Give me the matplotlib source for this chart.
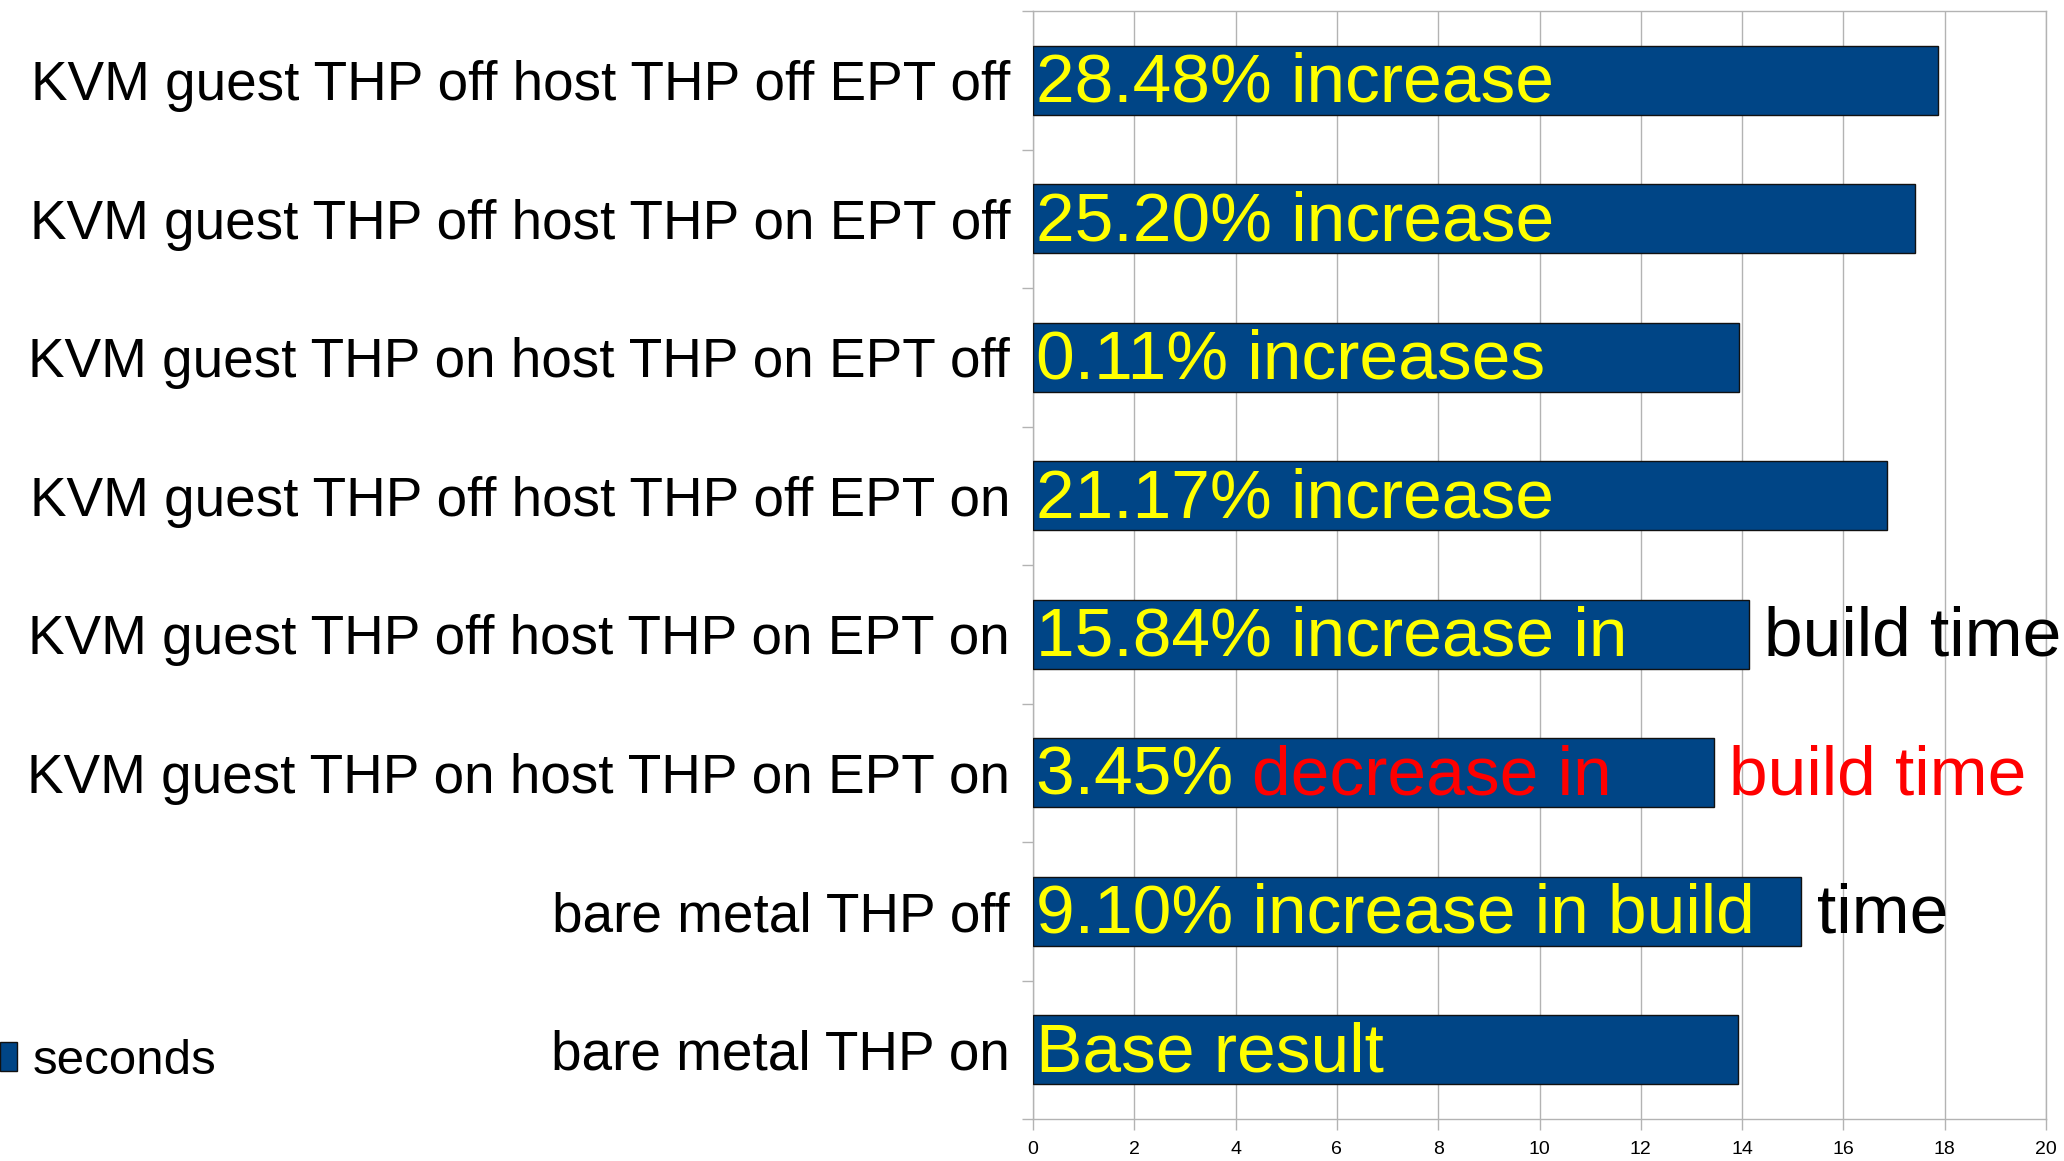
import matplotlib
matplotlib.use("Agg")
import matplotlib.pyplot as plt
from matplotlib.patches import Rectangle

plt.rcParams["font.family"] = ["Liberation Sans", "DejaVu Sans"]

# Build configurations, top to bottom
categories = [
    "KVM guest THP off host THP off EPT off",
    "KVM guest THP off host THP on EPT off",
    "KVM guest THP on host THP on EPT off",
    "KVM guest THP off host THP off EPT on",
    "KVM guest THP off host THP on EPT on",
    "KVM guest THP on host THP on EPT on",
    "bare metal THP off",
    "bare metal THP on",
]
# Build time in seconds
seconds = [17.87, 17.42, 13.93, 16.86, 14.14, 13.44, 15.17, 13.92]

# Text written inside each bar: list of (text, colour) pieces
inner_labels = [
    [("28.48% increase", "#ffff00")],
    [("25.20% increase", "#ffff00")],
    [("0.11% increases", "#ffff00")],
    [("21.17% increase", "#ffff00")],
    [("15.84% increase in", "#ffff00")],
    [("3.45% ", "#ffff00"), ("decrease in", "#ff0000")],
    [("9.10% increase in build", "#ffff00")],
    [("Base result", "#ffff00")],
]
# Text continuing past the end of the bar
outer_labels = [
    None, None, None, None,
    ("build time", "#000000"),
    ("build time", "#ff0000"),
    ("time", "#000000"),
    None,
]
xticks = list(range(0, 21, 2))

BAR_COLOR = "#004586"
GRID = "#b3b3b3"

W, H = 2064, 1161
fig = plt.figure(figsize=(W / 100, H / 100), dpi=100)
ax = fig.add_axes([1033 / W, 1 - 1119 / H, (2046 - 1033) / W, (1119 - 11) / H])

n = len(categories)
ypos = [n - 1 - i for i in range(n)]
ax.barh(ypos, seconds, height=0.5, color=BAR_COLOR, edgecolor="#111111",
        linewidth=1.0, zorder=3)

ax.set_xlim(0, 20)
ax.set_ylim(-0.5, n - 0.5)
ax.set_xticks(xticks)
ax.set_xticklabels([str(t) for t in xticks])
ax.tick_params(axis="x", direction="out", length=8, width=1, color=GRID,
               labelsize=14, pad=8)

ax.set_yticks(ypos)
ax.set_yticklabels(categories)
ax.set_yticks([k - 0.5 for k in range(n + 1)], minor=True)
ax.tick_params(axis="y", which="major", length=0, labelsize=39.5, pad=16.5)
ax.tick_params(axis="y", which="minor", direction="out", length=8, width=1,
               color=GRID)

ax.grid(axis="x", color=GRID, linewidth=1, zorder=0)
ax.set_axisbelow(True)
for sp in ax.spines.values():
    sp.set_color(GRID)
    sp.set_linewidth(1)

# Labels inside and beyond the bars
for y, val, pieces, outer in zip(ypos, seconds, inner_labels, outer_labels):
    prev = None
    for text, col in pieces:
        if prev is None:
            prev = ax.annotate(text, xy=(0, y), xytext=(2, 2.5),
                               textcoords="offset points", color=col,
                               fontsize=50, ha="left", va="center_baseline",
                               zorder=4)
        else:
            prev = ax.annotate(text, xy=(1, 0), xycoords=prev, color=col,
                               fontsize=50, ha="left", va="bottom", zorder=4)
    if outer is not None:
        ax.annotate(outer[0], xy=(val, y), xytext=(11, 2.5),
                    textcoords="offset points", color=outer[1], fontsize=50,
                    ha="left", va="center_baseline", zorder=4,
                    annotation_clip=False)

# Legend key
fig.patches.append(Rectangle((0, 1 - 1071 / H), 17 / W, 29 / H,
                             transform=fig.transFigure, facecolor=BAR_COLOR,
                             edgecolor="#111111", linewidth=1))
fig.text(33 / W, 1 - 1057 / H, "seconds", fontsize=35.5, ha="left",
         va="center_baseline")

fig.savefig("out.png", dpi=100)
